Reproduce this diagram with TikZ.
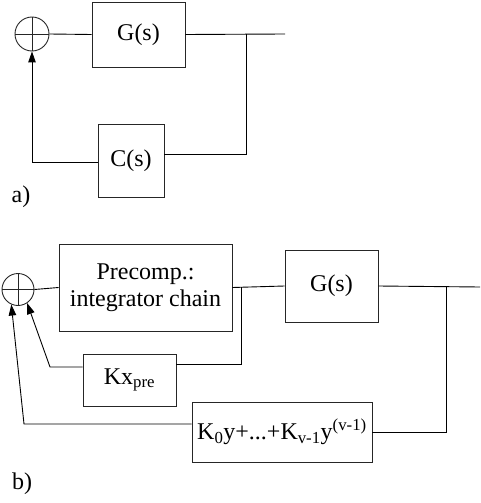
\documentclass[tikz,border=0pt]{standalone}
\usepackage{fontspec}
\setmainfont{Liberation Serif}
\usetikzlibrary{arrows.meta}
\begin{document}
\begin{tikzpicture}[x=1pt,y=-1pt,line width=0.9pt,
  box/.style={draw=black!85,rectangle,inner sep=0pt,font=\fontsize{24}{27}\selectfont,align=center},
  sumnode/.style={draw=black!85,circle,inner sep=0pt,minimum size=#1,
    path picture={\draw[line width=0.6pt,black!85] (path picture bounding box.north)--(path picture bounding box.south)
      (path picture bounding box.west)--(path picture bounding box.east);}},
  arr/.style={-{Triangle[length=11pt,width=7.5pt]}},
  lbl/.style={font=\fontsize{24}{27}\selectfont,inner sep=0pt}]
\useasboundingbox (0,0) rectangle (480,503);
% ---- a)
\node[sumnode=34pt] (S1) at (32,34) {};
\node[box,minimum width=93pt,minimum height=65pt] (G1) at (138.5,34.5) {G(s)};
\node[box,minimum width=66pt,minimum height=73pt] (C1) at (131,160.5) {C(s)};
\coordinate (J1) at (246,34);
\coordinate (O1) at (285,34);
\draw (S1.east) -- (G1.west);
\draw (G1.east) -- (O1);
\draw (J1) |- ([yshift=6.5pt]C1.east);
\draw[arr] ([yshift=-1.5pt]C1.west) -| (S1.south);
\node[lbl] (la) at (21,197) {a)};
% ---- b)
\node[sumnode=32pt] (S2) at (18,289.5) {};
\node[box,minimum width=173pt,minimum height=87pt] (P) at (145.5,287.5) {Precomp.:\\integrator chain};
\node[box,minimum width=93pt,minimum height=72pt] (G2) at (331.5,286) {G(s)};
\node[box,minimum width=93pt,minimum height=52pt] (Kx) at (129.5,380) {Kx\textsubscript{pre}};
\node[box,minimum width=180pt,minimum height=60pt,font=\fontsize{24}{27}\selectfont] (K0) at (282,432)
  {K\textsubscript{0}y+...+K\textsubscript{v-1}y\textsuperscript{(v-1)}};
\coordinate (J2) at (241,287);
\coordinate (J3) at (446,287);
\coordinate (O2) at (480,287);
\coordinate (B1) at (50,367);
\coordinate (B2) at (24,424);
\draw (S2.east) -- (P.west);
\draw (P.east) -- (G2.west);
\draw (G2.east) -- (O2);
\draw (J2) |- ([yshift=16pt]Kx.east);
\draw (J3) |- (K0.east);
\draw[arr] ([yshift=13pt]Kx.west) -- (B1) -- (S2.-56);
\draw[arr] ([yshift=8pt]K0.west) -- (B2) -- (S2.-114);
\node[lbl] (lb) at (22,484) {b)};
\end{tikzpicture}
\end{document}
